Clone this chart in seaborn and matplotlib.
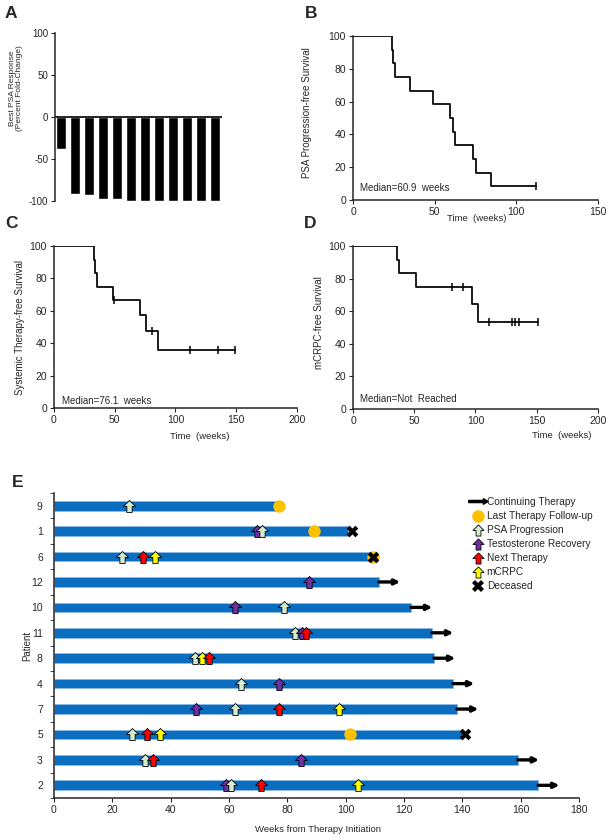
import numpy as np
import matplotlib
matplotlib.use("Agg")
import matplotlib.pyplot as plt
import seaborn as sns
from matplotlib.path import Path
from matplotlib.lines import Line2D

# -----------------------------
# Data
# -----------------------------
# Panel A: best PSA response per patient (percent change)
psa_response = [-38, -92, -93, -97, -98, -100, -100, -100, -100, -100, -100, -100]

# Panel B: PSA progression-free survival (weeks, 1 = event, 0 = censored)
pfs_weeks = [24, 24.5, 25.5, 35, 48.7, 59.5, 61, 62.3, 73.6, 75.6, 84.5, 112]
pfs_event = [1, 1, 1, 1, 1, 1, 1, 1, 1, 1, 1, 0]

# Panel C: systemic therapy-free survival
stfs_weeks = [33, 34, 35.5, 48.5, 49.5, 70.6, 76.1, 81, 85.7, 112, 134.6, 148.6]
stfs_event = [1, 1, 1, 1, 0, 1, 1, 0, 1, 0, 0, 0]

# Panel D: mCRPC-free survival
mcrpc_weeks = [36, 37.6, 51.8, 80.5, 90, 96.9, 102.3, 111, 129.6, 132.3, 135.9, 151.4]
mcrpc_event = [1, 1, 1, 0, 0, 1, 1, 0, 0, 0, 0, 0]

# Panel E: swimmer plot
patients = ["9", "1", "6", "12", "10", "11", "8", "4", "7", "5", "3", "2"]
therapy_end = [76, 100.8, 109, 111.4, 122.4, 129.6, 130.3, 136.8, 138.2, 140, 159, 166]
continuing = ["12", "10", "11", "8", "4", "7", "3", "2"]

psa_prog_pat = ["9", "1", "6", "10", "11", "8", "4", "7", "5", "3", "2"]
psa_prog_wk = [25.6, 71.2, 23.2, 78.7, 82.6, 48.3, 64, 62, 26.9, 31.2, 60.6]
testo_pat = ["1", "12", "10", "11", "4", "7", "3", "2"]
testo_wk = [69.5, 87.3, 62, 84.9, 77.2, 48.7, 84.7, 59]
next_pat = ["6", "11", "8", "7", "5", "3", "2"]
next_wk = [30.6, 86.3, 53.2, 77, 31.9, 33.9, 71]
mcrpc_pat = ["6", "8", "7", "5", "2"]
mcrpc_wk = [34.8, 50.8, 97.7, 36.3, 104.3]
followup_pat = ["9", "1", "6", "5"]
followup_wk = [77, 89, 109.5, 101.5]
deceased_pat = ["1", "6", "5"]
deceased_wk = [102, 109.5, 141]

# -----------------------------
# Style
# -----------------------------
sns.set_style("ticks")
plt.rcParams["font.family"] = ["Liberation Sans", "DejaVu Sans"]
plt.rcParams["axes.unicode_minus"] = False
plt.rcParams["axes.linewidth"] = 1.1
plt.rcParams["xtick.major.size"] = 3
plt.rcParams["ytick.major.size"] = 3
plt.rcParams["xtick.major.pad"] = 2
plt.rcParams["ytick.major.pad"] = 2

BLUE = "#0B6DC0"
ORANGE = "#FFC000"
PSA_GREEN = "#D6EACD"
PURPLE = "#7030A0"
RED = "#FF0000"
YELLOW = "#FFFF00"

up_arrow = Path(
    [(-0.22, -0.5), (0.22, -0.5), (0.22, 0.0), (0.5, 0.0), (0.0, 0.5),
     (-0.5, 0.0), (-0.22, 0.0), (-0.22, -0.5)],
    [Path.MOVETO] + [Path.LINETO] * 6 + [Path.CLOSEPOLY])
long_arrow = Path(
    [(-1, -0.11), (0.5, -0.11), (0.5, -0.28), (1, 0), (0.5, 0.28),
     (0.5, 0.11), (-1, 0.11), (-1, -0.11)],
    [Path.MOVETO] + [Path.LINETO] * 6 + [Path.CLOSEPOLY])


def km_curve(times, events):
    t_out, s_out = [0.0], [100.0]
    s = 100.0
    at_risk = len(times)
    cens_t, cens_s = [], []
    for t, e in sorted(zip(times, events)):
        if e:
            s *= (at_risk - 1) / at_risk
        else:
            cens_t.append(t)
            cens_s.append(s)
        at_risk -= 1
        t_out.append(t)
        s_out.append(s)
    return t_out, s_out, cens_t, cens_s


def km_panel(ax, times, events, xmax, ylabel, median_text, text_xy):
    t, s, ct, cs = km_curve(times, events)
    sns.lineplot(x=t, y=s, drawstyle="steps-post", color="black", lw=1.25,
                 estimator=None, sort=False, ax=ax)
    sns.scatterplot(x=ct, y=cs, marker="|", s=28, color="black",
                    linewidth=1.1, ax=ax)
    ax.set_xlim(0, xmax)
    ax.set_ylim(0, 100)
    ax.set_xticks(np.arange(0, xmax + 1, 50))
    ax.set_yticks(np.arange(0, 101, 20))
    ax.tick_params(labelsize=7.5)
    ax.set_ylabel(ylabel, fontsize=7)
    ax.set_xlabel("Time  (weeks)", fontsize=6.8)
    ax.text(text_xy[0], text_xy[1], median_text, fontsize=7, va="center")
    sns.despine(ax=ax)


fig = plt.figure(figsize=(6.1, 8.38), dpi=100)

# ============================================================
# A - waterfall
# ============================================================
axA = fig.add_axes([0.0902, 0.7601, 0.2738, 0.2005])
sns.barplot(x=list(range(len(psa_response))), y=psa_response, color="black",
            saturation=1, width=0.72, ax=axA)
axA.axhline(0, color="black", lw=1.2)
axA.set_xlim(-0.42, 11.5)
axA.set_ylim(-100, 100)
axA.set_yticks([100, 50, 0, -50, -100])
axA.set_xticks([])
axA.tick_params(labelsize=7)
axA.set_ylabel("Best PSA Response\n(Percent Fold-Change)", fontsize=6,
               linespacing=1.0)
axA.yaxis.set_label_coords(-0.19, 0.67)
sns.despine(ax=axA, bottom=True)

# ============================================================
# B, C, D - Kaplan-Meier
# ============================================================
axB = fig.add_axes([0.5787, 0.7613, 0.4016, 0.1957])
km_panel(axB, pfs_weeks, pfs_event, 150, "PSA Progression-free Survival",
         "Median=60.9  weeks", (4.3, 7.3))
axB.yaxis.set_label_coords(-0.167, 0.53)
axB.xaxis.set_label_coords(0.506, -0.085)

axC = fig.add_axes([0.0885, 0.5131, 0.3984, 0.1933])
km_panel(axC, stfs_weeks, stfs_event, 200, "Systemic Therapy-free Survival",
         "Median=76.1  weeks", (6.6, 4.3))
axC.yaxis.set_label_coords(-0.119, 0.50)
axC.xaxis.set_label_coords(0.60, -0.148)

axD = fig.add_axes([0.5787, 0.5119, 0.4016, 0.1945])
km_panel(axD, mcrpc_weeks, mcrpc_event, 200, "mCRPC-free Survival",
         "Median=Not  Reached", (5.7, 6.1))
axD.yaxis.set_label_coords(-0.118, 0.53)
axD.xaxis.set_label_coords(0.853, -0.135)

# ============================================================
# E - swimmer plot
# ============================================================
axE = fig.add_axes([0.0885, 0.0477, 0.8607, 0.3640])
sns.barplot(x=therapy_end, y=patients, orient="h", color=BLUE, saturation=1,
            width=0.38, edgecolor="#8DBBE6", linewidth=0.7, ax=axE)
pos = {p: i for i, p in enumerate(patients)}

for p in continuing:
    end = therapy_end[pos[p]]
    axE.annotate("", xy=(end + 7.3, pos[p]), xytext=(end, pos[p]),
                 arrowprops=dict(arrowstyle="-|>", color="black", lw=2.4,
                                 mutation_scale=7.5, shrinkA=0, shrinkB=0))

axE.scatter(followup_wk, [pos[p] for p in followup_pat], s=80, color=ORANGE,
            zorder=3, linewidths=0)
axE.scatter(deceased_wk, [pos[p] for p in deceased_pat], s=70, marker="X",
            color="black", zorder=4, linewidths=0)

arrow_events = []
for pats, wks, col in [(psa_prog_pat, psa_prog_wk, PSA_GREEN),
                       (testo_pat, testo_wk, PURPLE),
                       (next_pat, next_wk, RED),
                       (mcrpc_pat, mcrpc_wk, YELLOW)]:
    for p, w in zip(pats, wks):
        arrow_events.append((w, pos[p], col))
arrow_events.sort()
for k, (w, y, col) in enumerate(arrow_events):
    axE.scatter([w], [y], marker=up_arrow, s=75, facecolor=col,
                edgecolor="black", linewidths=0.6, zorder=5 + k * 0.01)

axE.set_xlim(0, 180)
axE.set_ylim(11.5, -0.5)
axE.set_xticks(np.arange(0, 181, 20))
axE.set_yticks(range(len(patients)), patients)
axE.set_yticks(np.arange(-0.5, len(patients), 1), minor=True)
axE.tick_params(axis="y", which="major", length=0, pad=8)
axE.tick_params(axis="y", which="minor", length=3)
axE.tick_params(labelsize=7.5)
axE.set_xlabel("Weeks from Therapy Initiation", fontsize=6.8)
axE.xaxis.set_label_coords(0.503, -0.0885)
axE.set_ylabel("Patient", fontsize=7)
axE.yaxis.set_label_coords(-0.042, 0.50)
sns.despine(ax=axE)

handles = [
    Line2D([], [], ls="", marker=long_arrow, ms=14, color="black"),
    Line2D([], [], ls="", marker="o", ms=9, color=ORANGE, mew=0),
    Line2D([], [], ls="", marker=up_arrow, ms=8, mfc=PSA_GREEN, mec="black", mew=0.6),
    Line2D([], [], ls="", marker=up_arrow, ms=8, mfc=PURPLE, mec="black", mew=0.6),
    Line2D([], [], ls="", marker=up_arrow, ms=8, mfc=RED, mec="black", mew=0.6),
    Line2D([], [], ls="", marker=up_arrow, ms=8, mfc=YELLOW, mec="black", mew=0.6),
    Line2D([], [], ls="", marker="X", ms=8, color="black", mew=0),
]
labels = ["Continuing Therapy", "Last Therapy Follow-up", "PSA Progression",
          "Testosterone Recovery", "Next Therapy", "mCRPC", "Deceased"]
fig.legend(handles, labels, loc="upper left", bbox_to_anchor=(472 / 610, 1 - 497 / 838),
           frameon=False, fontsize=7.3, handlelength=1.1, handletextpad=0.35,
           labelspacing=0.4, borderaxespad=0, borderpad=0)

# ============================================================
# Panel letters
# ============================================================
for letter, x, y in [("A", 5, 6), ("B", 305, 6), ("C", 5, 216), ("D", 304, 216),
                     ("E", 12, 475)]:
    fig.text(x / 610, 1 - y / 838, letter, fontsize=12.5, fontweight="bold",
             va="top", ha="left")

plt.savefig("out.png", dpi=100)
plt.close()
